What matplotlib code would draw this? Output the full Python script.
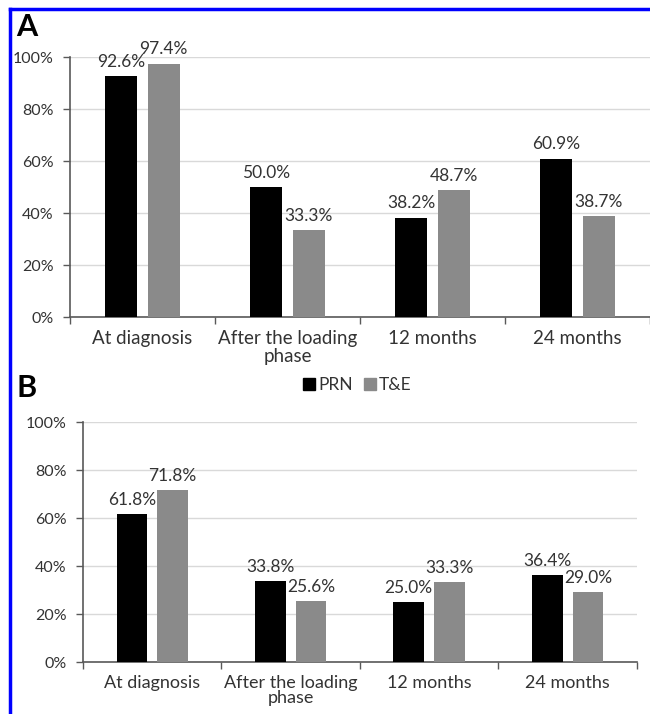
import matplotlib.pyplot as plt
import numpy as np
from matplotlib.lines import Line2D

plt.rcParams["font.family"] = ["Lato", "DejaVu Sans"]

categories = ["At diagnosis", "After the loading\nphase", "12 months", "24 months"]
series = ["PRN", "T&E"]
prnA = [92.6, 50.0, 38.2, 60.9]
teA = [97.4, 33.3, 48.7, 38.7]
prnB = [61.8, 33.8, 25.0, 36.4]
teB = [71.8, 25.6, 33.3, 29.0]
yticks = [0, 20, 40, 60, 80, 100]

BLACK = "#000000"
GRAY = "#8a8a8a"
AXIS = "#595959"
GRID = "#d9d9d9"
TXT = "#333333"


def panel(ax, prn, te, xfs, lsp):
    x = np.arange(len(categories))
    w = 0.222
    off = 0.147
    ax.bar(x - off, prn, w, color=BLACK, zorder=3)
    ax.bar(x + off, te, w, color=GRAY, zorder=3)
    for xi, v in zip(x - off, prn):
        ax.text(xi, v + 2.5, "%.1f%%" % v, ha="center", va="bottom",
                fontsize=12.5, color=TXT)
    for xi, v in zip(x + off, te):
        ax.text(xi, v + 2.5, "%.1f%%" % v, ha="center", va="bottom",
                fontsize=12.5, color=TXT)
    ax.set_xlim(-0.5, len(categories) - 0.5)
    ax.set_ylim(0, 100)
    ax.set_yticks(yticks)
    ax.set_yticklabels(["%d%%" % t for t in yticks], fontsize=11.5, color=TXT)
    ax.set_xticks(x)
    ax.set_xticklabels(categories, fontsize=xfs, color=TXT, linespacing=lsp)
    ax.tick_params(axis="x", length=0, pad=9)
    ax.set_xticks(np.arange(len(categories) + 1) - 0.5, minor=True)
    ax.tick_params(axis="x", which="minor", length=5, color=AXIS, width=1)
    ax.tick_params(axis="y", length=5, color=AXIS, width=1, pad=7)
    ax.yaxis.grid(True, color=GRID, linewidth=1, zorder=0)
    ax.set_axisbelow(True)
    for s in ["top", "right"]:
        ax.spines[s].set_visible(False)
    for s in ["left", "bottom"]:
        ax.spines[s].set_color(AXIS)
        ax.spines[s].set_linewidth(1.2)


fig = plt.figure(figsize=(6.5, 7.14), dpi=100)

axA = fig.add_axes([0.1077, 0.556, 0.892, 0.364])
panel(axA, prnA, teA, 13.5, 1.1)
axB = fig.add_axes([0.1277, 0.0728, 0.852, 0.336])
panel(axB, prnB, teB, 13, 0.95)

fig.text(0.025, 0.962, "A", fontsize=22, fontweight="bold", ha="left", va="center")
fig.text(0.025, 0.457, "B", fontsize=22, fontweight="bold", ha="left", va="center")

handles = [Line2D([], [], marker="s", linestyle="none", markersize=8, color=BLACK),
           Line2D([], [], marker="s", linestyle="none", markersize=8, color=GRAY)]
fig.legend(handles, series, loc="center", bbox_to_anchor=(0.549, 0.461),
           ncol=2, frameon=False, fontsize=12.5, handletextpad=0.1,
           columnspacing=0.6, handlelength=0.8, labelcolor=TXT)

# blue frame along the top and left edges
fig.add_artist(Line2D([0.0154, 1.0], [0.988, 0.988], color="#0000ff", linewidth=2.5,
                      transform=fig.transFigure))
fig.add_artist(Line2D([0.0154, 0.0154], [0.0, 0.988], color="#0000ff", linewidth=2.5,
                      transform=fig.transFigure))

fig.savefig("out.png", dpi=100)
